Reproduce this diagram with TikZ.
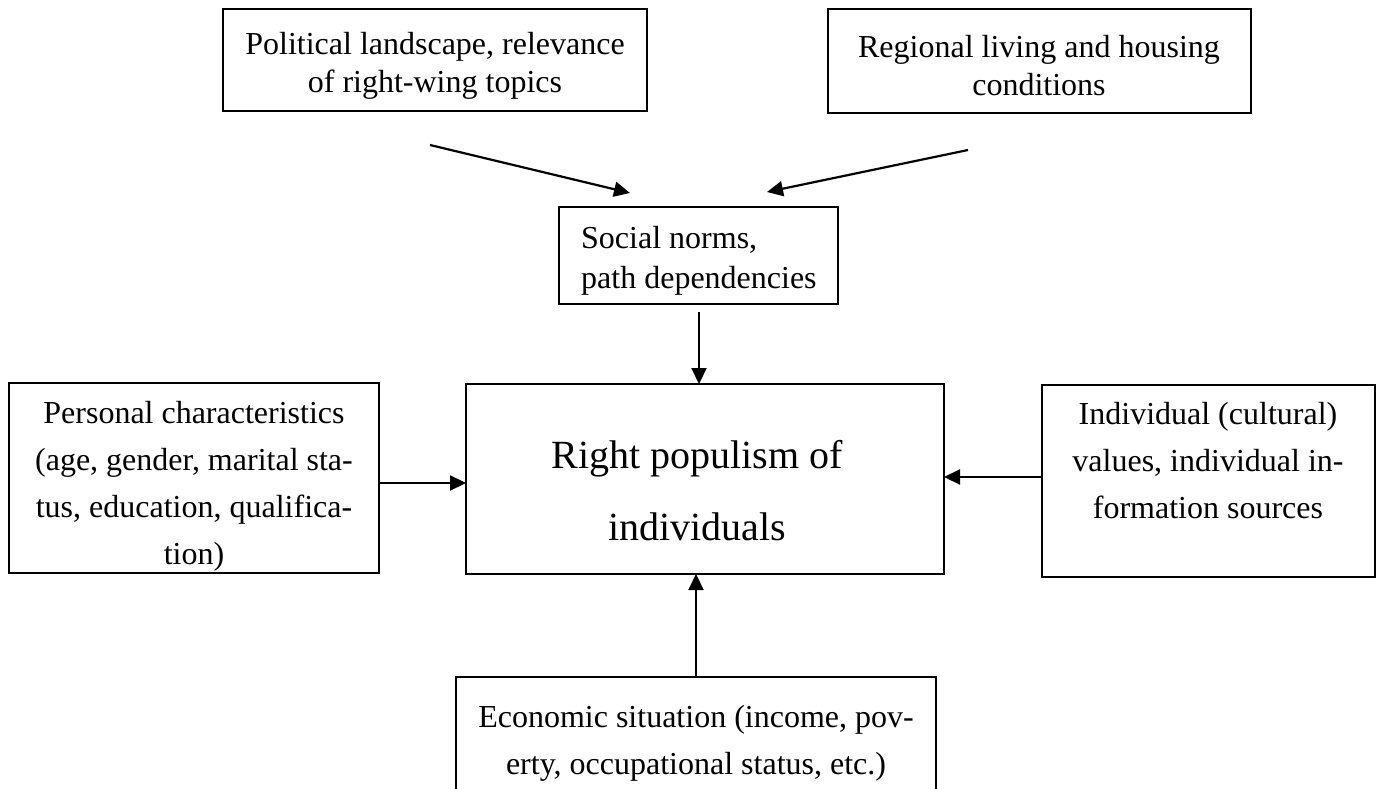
\documentclass[tikz,border=0pt]{standalone}
\usepackage{fontspec}
\setmainfont{Liberation Serif}
\usetikzlibrary{arrows.meta}
\begin{document}
\begin{tikzpicture}[x=1pt,y=-1pt,
  box/.style={draw,line width=1.7pt,inner sep=0pt,outer sep=0pt},
  txt/.style={inner sep=0pt,align=center},
  arr/.style={line width=2.2pt,-{Triangle[length=16pt,width=15pt]}}]
\clip (0,0) rectangle (1384,789);
\fill[white] (0,0) rectangle (1384,789);
% boxes
\node[box,minimum width=424pt,minimum height=102pt] (pol) at (435,60) {};
\node[box,minimum width=423pt,minimum height=104pt] (reg) at (1039.5,61) {};
\node[box,minimum width=279pt,minimum height=97pt] (soc) at (698.5,255.5) {};
\node[box,minimum width=478pt,minimum height=190pt] (cen) at (705,479) {};
\node[box,minimum width=370pt,minimum height=190pt] (per) at (194,478) {};
\node[box,minimum width=333pt,minimum height=192pt] (ind) at (1208.5,481) {};
\node[box,minimum width=480pt,minimum height=126pt] (eco) at (696,740) {};
% texts
\node[txt,font=\fontsize{32}{38}\selectfont] (poltext) at (435,66) {Political landscape, relevance\\of right-wing topics};
\node[txt,font=\fontsize{32}{38}\selectfont] (regtext) at (1039,66) {Regional living and housing\\conditions};
\node[txt,align=left,anchor=west,font=\fontsize{32}{40}\selectfont] (soctext) at (581,261) {Social norms,\\path dependencies};
\node[txt,font=\fontsize{40}{72}\selectfont] (centext) at (697,491) {Right populism of\\individuals};
\node[txt,font=\fontsize{32}{47}\selectfont] (pertext) at (194,486) {Personal characteristics\\(age, gender, marital sta-\\tus, education, qualifica-\\tion)};
\node[txt,font=\fontsize{32}{47}\selectfont] (indtext) at (1208,461) {Individual (cultural)\\values, individual in-\\formation sources};
\node[txt,font=\fontsize{32}{47}\selectfont] (ecotext) at (696,743) {Economic situation (income, pov-\\erty, occupational status, etc.)};
% connectors
\coordinate (a1s) at (430,145);
\coordinate (a1e) at (630,193);
\draw[arr] (a1s) -- (a1e);
\coordinate (a2s) at (968,150);
\coordinate (a2e) at (767,192);
\draw[arr] (a2s) -- (a2e);
\coordinate (a3s) at (699,312);
\draw[arr] (a3s) -- (a3s |- cen.north);
\coordinate (yl) at (0,483);
\draw[arr] (per.east |- yl) -- (cen.west |- yl);
\coordinate (yr) at (0,477);
\draw[arr] (ind.west |- yr) -- (cen.east |- yr);
\coordinate (xe) at (696,0);
\draw[arr] (eco.north -| xe) -- (cen.south -| xe);
\end{tikzpicture}
\end{document}
